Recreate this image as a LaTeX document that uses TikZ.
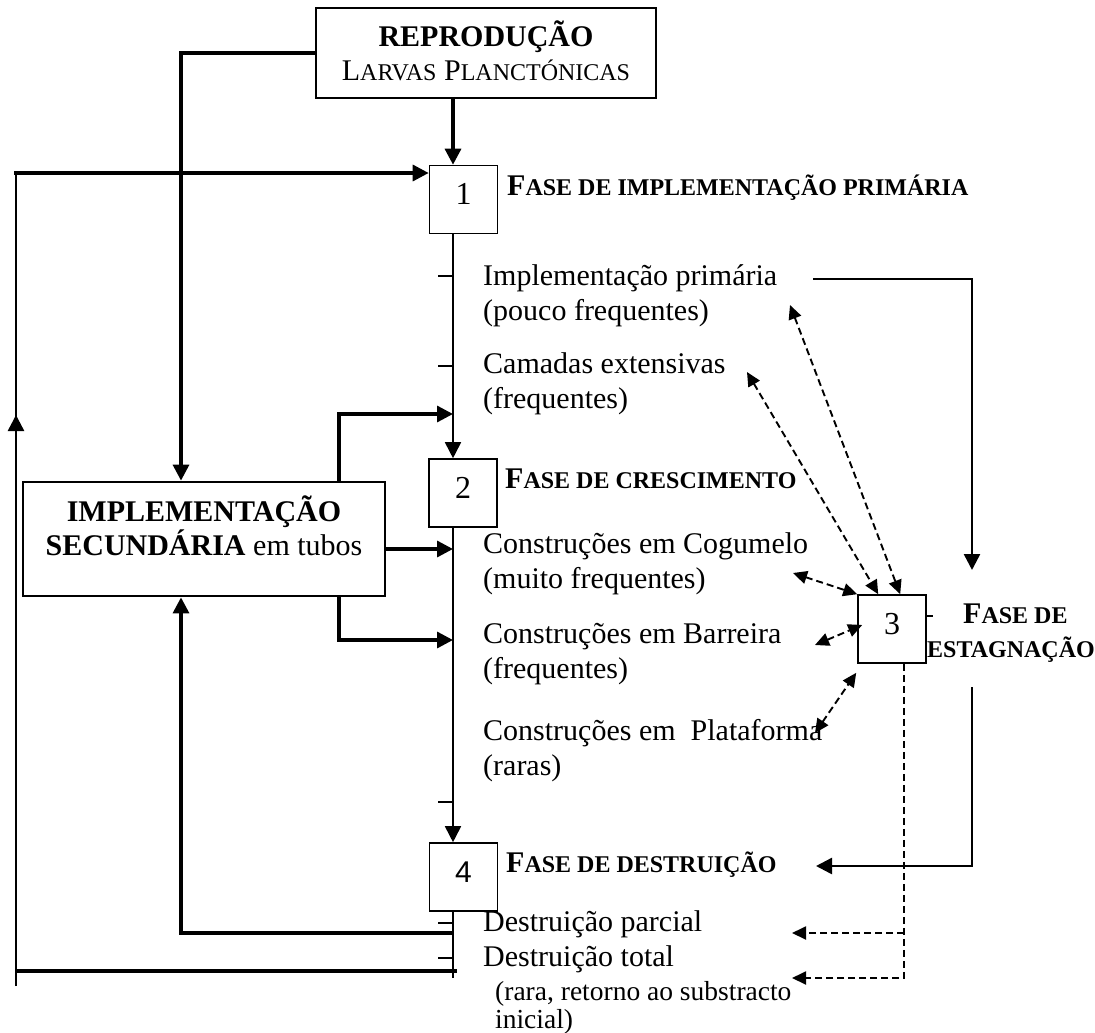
\documentclass[tikz,border=0pt]{standalone}
\usepackage{fontspec}
\setmainfont{Liberation Serif}
\newfontfamily\sansf{Liberation Sans}
\usetikzlibrary{arrows.meta,calc}
\newcommand\mainsz{\fontsize{30}{35}\selectfont}
\newcommand\numsz{\fontsize{32}{36}\selectfont}
\newcommand\smc[1]{{\fontsize{24}{28}\selectfont #1}}
\newcommand\rarasz{\fontsize{27.5}{28}\selectfont}
\begin{document}
\begin{tikzpicture}[x=1pt,y=-1pt,
 every node/.style={font=\mainsz, inner sep=0pt},
 txt/.style={anchor=base west},
 ctxt/.style={anchor=base},
 bigbox/.style={draw, line width=2.8pt},
 numbox/.style={draw, line width=1.6pt, font=\numsz, minimum width=68pt, minimum height=68pt, text height=22pt, text depth=12pt},
 thickline/.style={line width=3.3pt},
 medline/.style={line width=2.5pt},
 thinline/.style={line width=1.7pt},
 dashline/.style={line width=1.9pt, dash pattern=on 7pt off 4pt},
 tipB/.style={-{Triangle[length=16pt,width=16pt]}},
 tipD/.style={{Triangle[length=14pt,width=13pt]}-{Triangle[length=14pt,width=13pt]}},
 tipDe/.style={-{Triangle[length=14pt,width=13pt]}},
 tick/.style={line width=1.5pt}]
\useasboundingbox (0,0) rectangle (1095,1033);

% boxes
\node[bigbox, minimum width=340pt, minimum height=90pt] (rep) at (486,53) {};
\node[ctxt] (repA) at (486,47) {\bfseries REPRODUÇÃO};
\node[ctxt] (repB) at (486,81) {L\smc{ARVAS} P\smc{LANCTÓNICAS}};

\node[bigbox, minimum width=362pt, minimum height=114pt] (imp) at (204,539) {};
\node[ctxt] (impA) at (204,521) {\bfseries IMPLEMENTAÇÃO};
\node[ctxt] (impB) at (204,555) {\textbf{SECUNDÁRIA} em tubos};

\node[numbox] (b1) at (463.5,199.5) {1};
\node[numbox] (b2) at (463,493) {2};
\node[numbox] (b3) at (892,629) {3};
\node[numbox, font=\sansf\fontsize{30}{34}\selectfont] (b4) at (463.5,877) {4};

% main vertical line
\coordinate (vx) at (453,0);
\coordinate (vend) at (453,978);
\draw[thickline,tipB] (rep.south -| vx) -- (b1.north -| vx);
\draw[thinline,tipB] (b1.south -| vx) -- (b2.north -| vx);
\draw[thinline,tipB] (b2.south -| vx) -- (b4.north -| vx);
\draw[thinline] (b4.south -| vx) -- (vend);
\foreach \ty in {276,366,802,923,958} \draw[tick] (438,\ty) -- (453,\ty);
\coordinate (t3) at (933,616);
\draw[tick] (b3.east |- t3) -- (t3);

% secondary implementation arrows
\coordinate (cx) at (339,0);
\coordinate (j1) at (453,414);
\coordinate (j2) at (453,549);
\coordinate (j3) at (453,640);
\draw[thickline,tipB] (imp.north -| cx) -- (cx |- j1) -- (j1);
\draw[thickline,tipB] (imp.east |- j2) -- (j2);
\draw[thickline,tipB] (imp.south -| cx) -- (cx |- j3) -- (j3);

% reproduction to secondary
\coordinate (lx) at (181,0);
\draw[thickline,tipB] (rep.west) -- (lx |- rep.west) -- (imp.north -| lx);

% partial destruction back to secondary
\coordinate (k1) at (453,933);
\draw[thickline,tipB] (k1) -- (lx |- k1) -- (imp.south -| lx);

% total destruction loop
\coordinate (k2) at (457,971);
\coordinate (lb) at (16,986);
\coordinate (lt) at (16,173);
\coordinate (lt0) at (14,173);
\draw[thickline] (k2) -- (lb |- k2);
\draw[medline] (lb) -- (lt);
\draw[thickline,tipB] (lt0) -- (b1.west |- lt);
\coordinate (lm1) at (16,440);
\coordinate (lm2) at (16,415);
\draw[medline,tipB] (lm1) -- (lm2);

% right solid path
\coordinate (r1) at (813,279);
\coordinate (rx) at (972,0);
\coordinate (r2) at (972,570);
\coordinate (r3) at (972,687);
\coordinate (r4) at (816,866);
\draw[medline,tipB] (r1) -- (rx |- r1) -- (r2);
\draw[medline,tipB] (r3) -- (rx |- r4) -- (r4);

% dashed from stagnation
\coordinate (dx) at (904,0);
\coordinate (d1) at (792,933);
\coordinate (d2) at (792,978);
\draw[dashline,tipDe] (b3.south -| dx) -- (dx |- d2) -- (d2);
\draw[dashline,tipDe] (dx |- d1) -- (d1);

% texts
\node[txt] (ph1) at (507,195) {\bfseries F\smc{ASE DE IMPLEMENTAÇÃO PRIMÁRIA}};
\node[txt] (i1a) at (483,285) {Implementação primária};
\node[txt] (i1b) at (483,320) {(pouco frequentes)};
\node[txt] (c1a) at (483,373) {Camadas extensivas};
\node[txt] (c1b) at (483,408) {(frequentes)};
\node[txt] (ph2) at (505,488) {\bfseries F\smc{ASE DE CRESCIMENTO}};
\node[txt] (cg1) at (483,553) {Construções em Cogumelo};
\node[txt] (cg2) at (483,588) {(muito frequentes)};
\node[txt] (br1) at (483,643) {Construções em Barreira};
\node[txt] (br2) at (483,678) {(frequentes)};
\node[txt] (pl1) at (483,740) {Construções em\ \ Plataforma};
\node[txt] (pl2) at (483,775) {(raras)};
\node[txt] (ph3a) at (963,623) {\bfseries F\smc{ASE DE}};
\node[txt] (ph3b) at (927,657) {\bfseries\smc{ESTAGNAÇÃO}};
\node[txt] (ph4) at (506,872) {\bfseries F\smc{ASE DE DESTRUIÇÃO}};
\node[txt] (dp) at (483,931) {Destruição parcial};
\node[txt] (dt) at (483,966) {Destruição total};
\node[txt, font=\rarasz] (rr1) at (495,1000) {(rara, retorno ao substracto};
\node[txt, font=\rarasz] (rr2) at (495,1028) {inicial)};

% dashed double arrows
\coordinate (e1) at (790,305);
\coordinate (e2) at (747,372);
\coordinate (e3) at (793,573);
\coordinate (e4) at (815,645);
\coordinate (e5) at (815,733);
\draw[dashline,tipD] (e1) -- ($(b3.north west)+(43,0)$);
\draw[dashline,tipD] (e2) -- ($(b3.north west)+(21,0)$);
\draw[dashline,tipD] (e3) -- (b3.north west);
\draw[dashline,tipD] (e4) -- ($(b3.west)+(5,-4)$);
\draw[dashline,tipD] (e5) -- ($(b3.south west)+(-1,9)$);
\end{tikzpicture}
\end{document}
